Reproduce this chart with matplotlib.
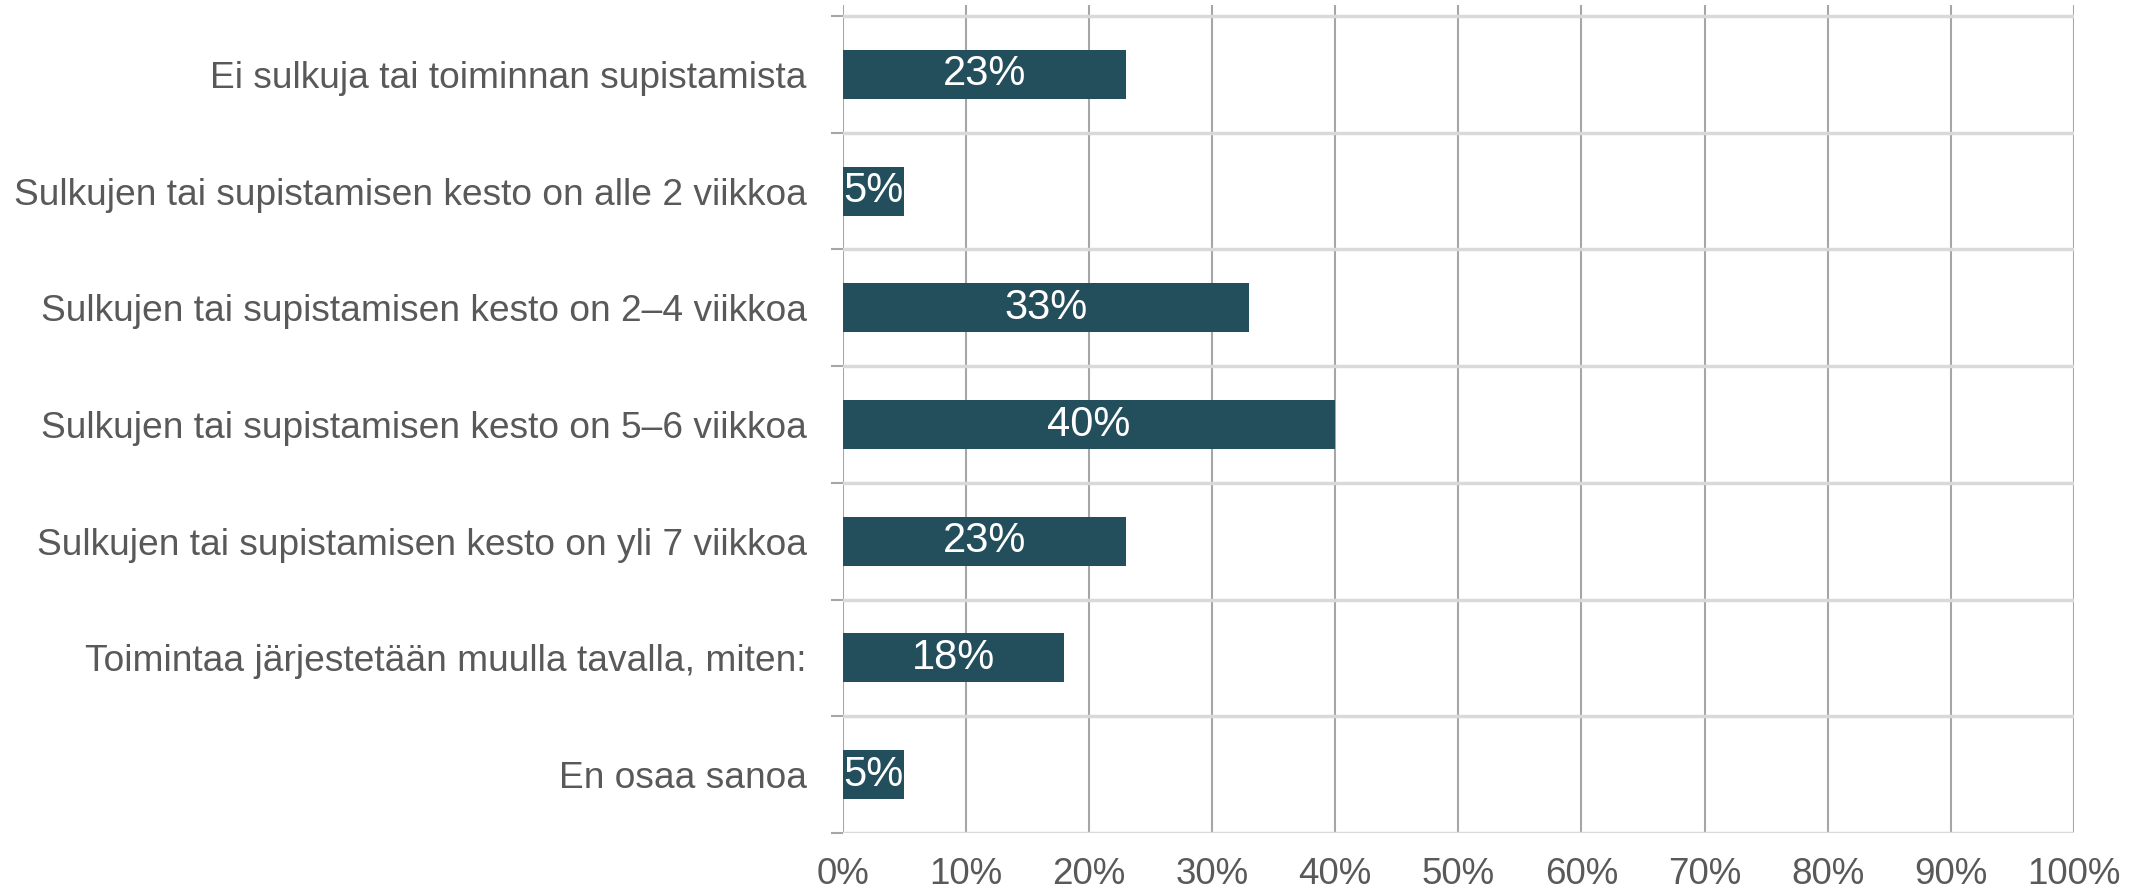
import numpy as np
import matplotlib
matplotlib.use('Agg')
import matplotlib.pyplot as plt

# ## Data
categories = [
    'Ei sulkuja tai toiminnan supistamista',
    'Sulkujen tai supistamisen kesto on alle 2 viikkoa',
    'Sulkujen tai supistamisen kesto on 2–4 viikkoa',
    'Sulkujen tai supistamisen kesto on 5–6 viikkoa',
    'Sulkujen tai supistamisen kesto on yli 7 viikkoa',
    'Toimintaa järjestetään muulla tavalla, miten:',
    'En osaa sanoa',
]
values = [23, 5, 33, 40, 23, 18, 5]
xticks = list(range(0, 101, 10))

# ## Style
bar_color = '#234E5C'
text_color = '#595959'
plt.rcParams['font.family'] = ['Liberation Sans', 'DejaVu Sans']

fig = plt.figure(figsize=(21.39, 8.94), dpi=100)
ax = fig.add_axes([0.394, 0.0682, 0.5756, 0.9262])

y = np.arange(len(categories))
ax.barh(y, values, height=0.42, color=bar_color, zorder=3)

# labels centred in the bars
for yi, v in zip(y, values):
    ax.text(v / 2, yi, f'{v}%', ha='center', va='center', color='white',
            fontsize=30, zorder=4)

ax.set_xlim(0, 100)
n = len(categories)
ax.set_ylim(n - 0.5, -0.594)

# vertical gridlines
ax.set_xticks(xticks)
ax.set_xticklabels([f'{t}%' for t in xticks])
for t in xticks:
    ax.axvline(t, color='#A6A6A6', lw=1.5, zorder=1)

# category separators
for b in np.arange(-0.5, n, 1.0):
    ax.axhline(b, color='#D9D9D9', lw=2.5, zorder=2)

ax.set_yticks(y)
ax.set_yticklabels(categories)
ax.set_yticks(np.arange(-0.5, n, 1.0), minor=True)
ax.tick_params(axis='y', which='major', length=0, pad=26, labelsize=26.7,
               labelcolor=text_color)
ax.tick_params(axis='y', which='minor', length=8.6, width=1.5, color='#A6A6A6')
ax.tick_params(axis='x', length=0, pad=17, labelsize=26.5, labelcolor=text_color)

for s in ax.spines.values():
    s.set_visible(False)

fig.savefig('out.png', dpi=100)
